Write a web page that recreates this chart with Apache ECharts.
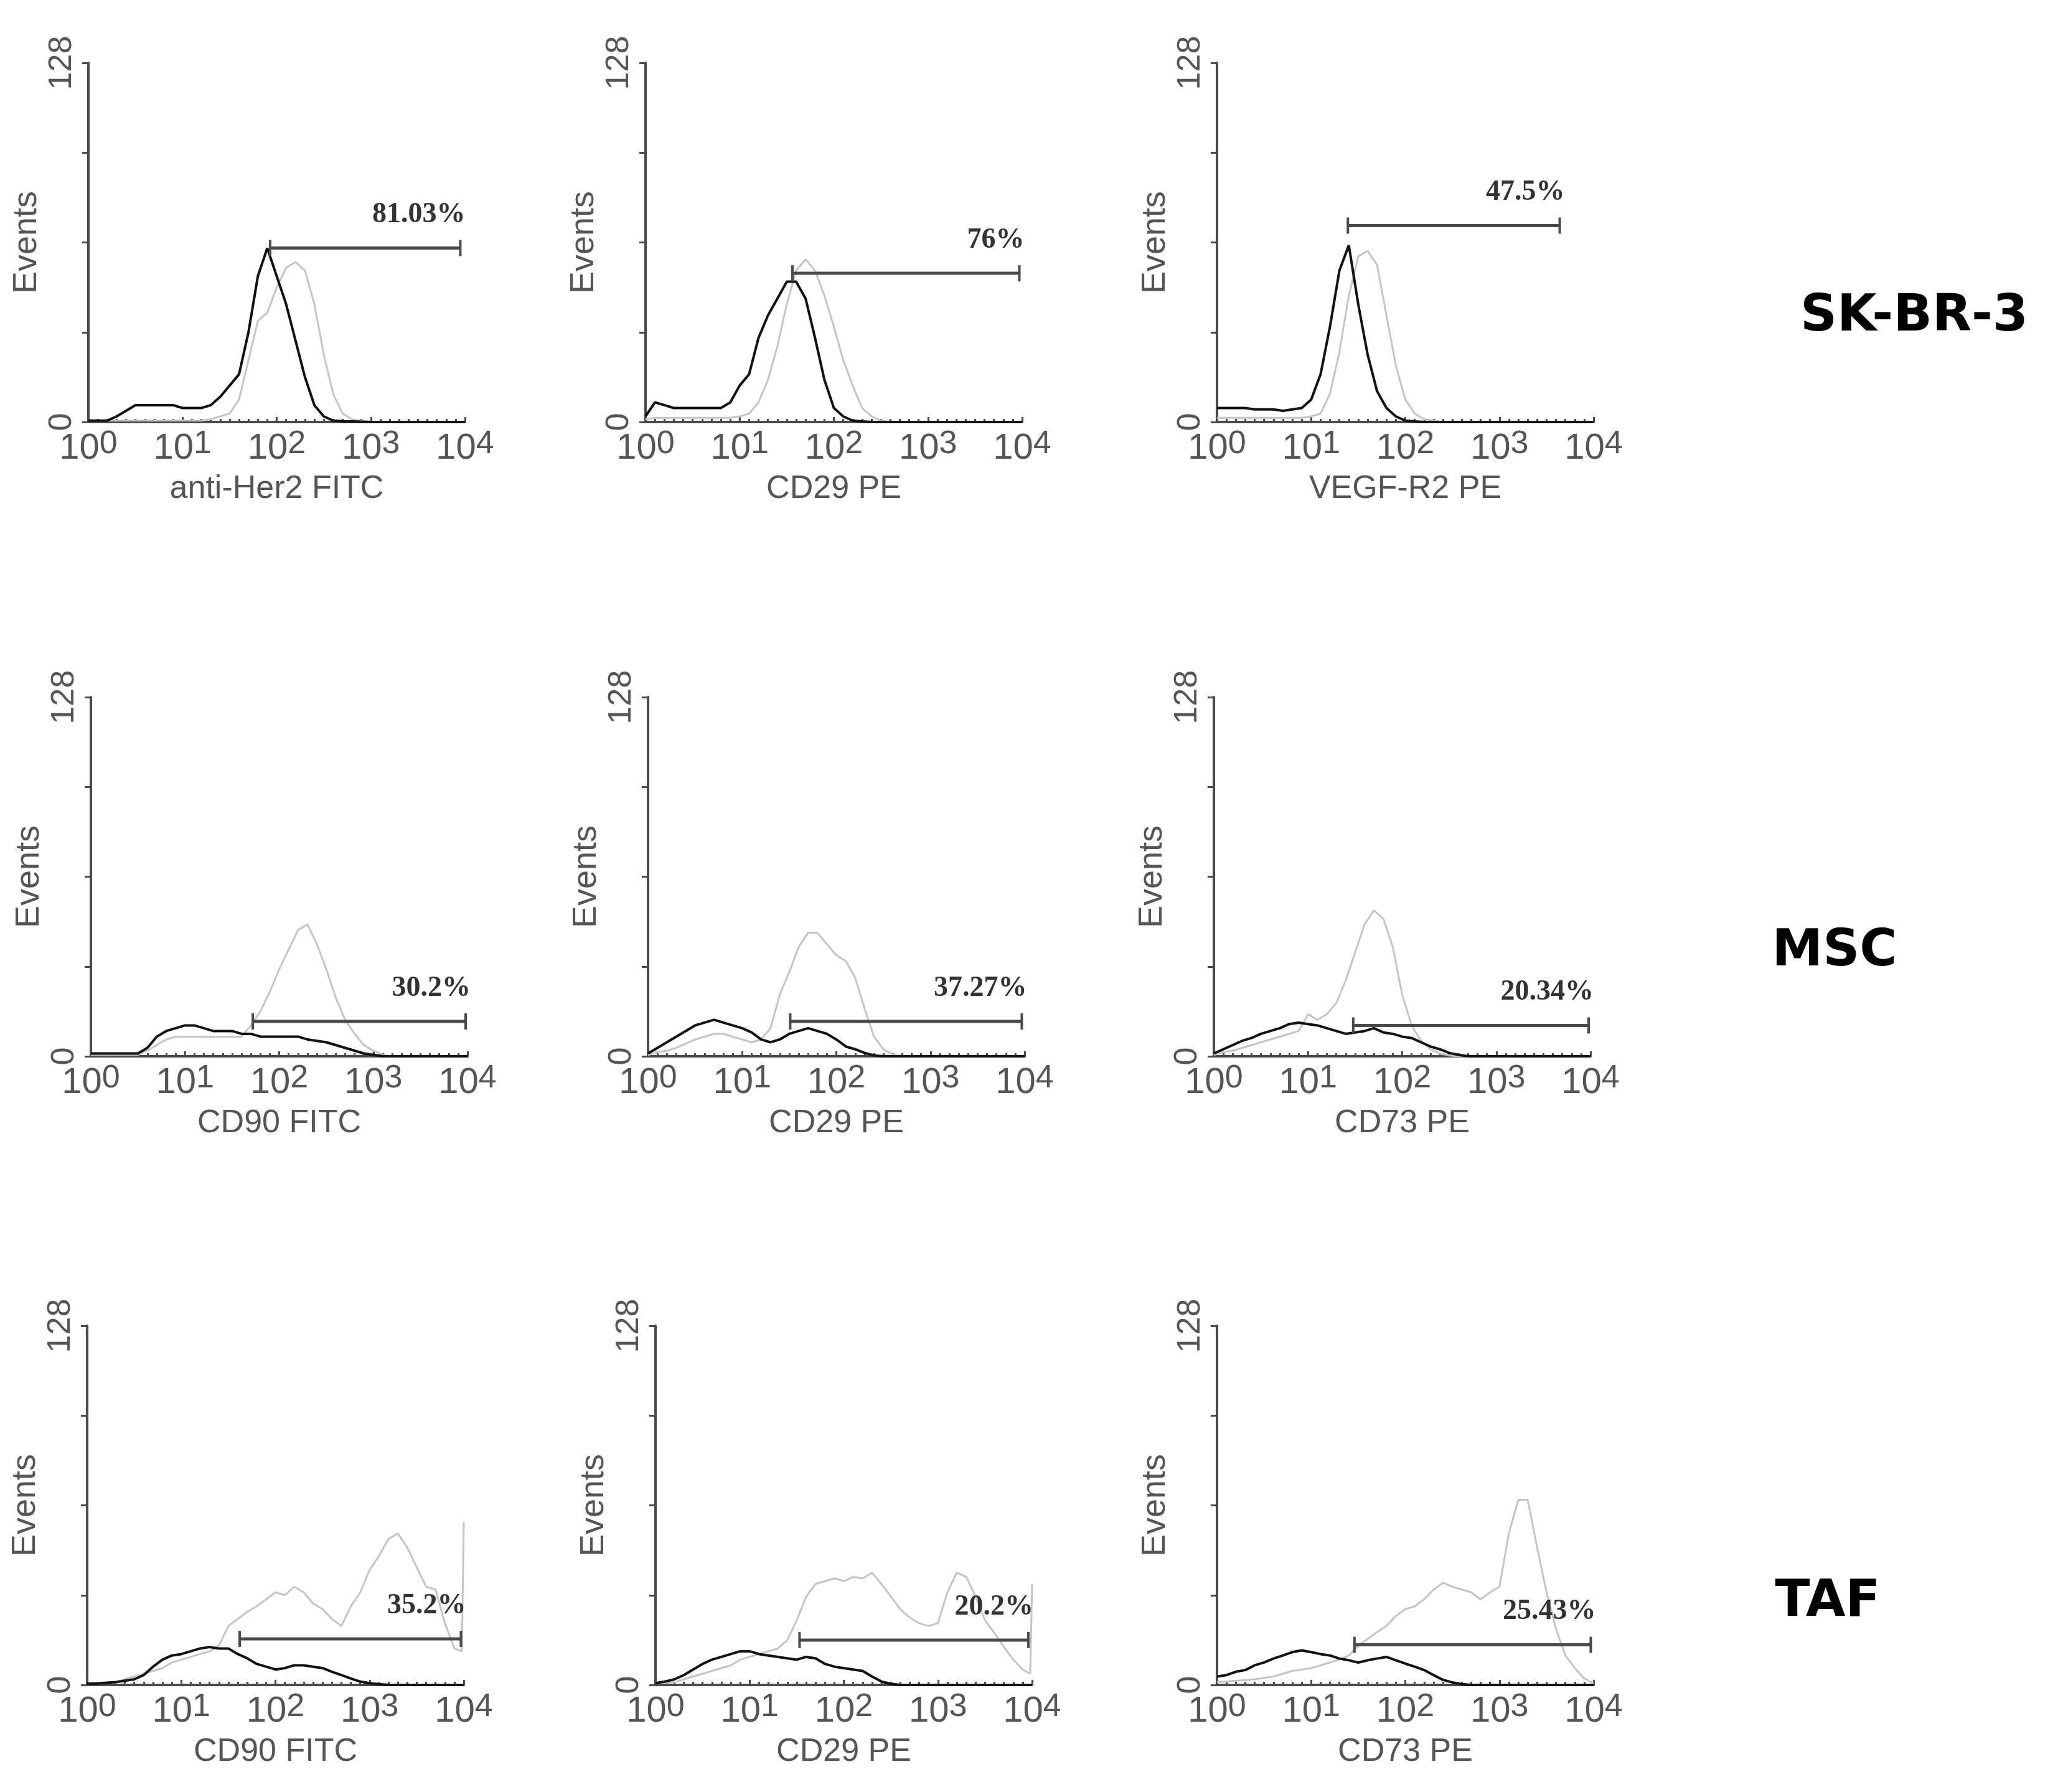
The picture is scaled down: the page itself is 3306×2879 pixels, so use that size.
<!DOCTYPE html>
<html><head><meta charset="utf-8">
<script src="https://cdn.jsdelivr.net/npm/echarts@6/dist/echarts.min.js"></script>
<style>html,body{margin:0;padding:0;background:#fff}#c{width:3306px;height:2879px}</style>
</head><body><div id="c"></div>
<script>
// log10 fluorescence positions (decades)
const LOGX = [0,0.1,0.2,0.3,0.4,0.5,0.6,0.7,0.8,0.9,1.0,1.1,1.2,1.3,1.4,1.5,1.6,1.7,1.8,1.9,2.0,2.1,2.2,2.3,2.4,2.5,2.6,2.7,2.8,2.9,3.0,3.1,3.2,3.3,3.4,3.5,3.6,3.7,3.8,3.9,3.98,4.0];
const xTickLabels = ['0','1','2','3','4'];
const axisTitles = ['anti-Her2 FITC','CD29 PE','VEGF-R2 PE','CD90 FITC','CD29 PE','CD73 PE','CD90 FITC','CD29 PE','CD73 PE'];
const rowLabels = ['SK-BR-3','MSC','TAF'];
const gateLabels = ['81.03%','76%','47.5%','30.2%','37.27%','20.34%','35.2%','20.2%','25.43%'];
const gateY  = [62, 53, 70, 12.4, 12.4, 11, 16.4, 16, 14.3];
const gateX0 = [1.93, 1.56, 1.39, 1.72, 1.51, 1.48, 1.62, 1.53, 1.46];
const gateX1 = [3.95, 3.97, 3.64, 3.98, 3.97, 3.98, 3.97, 3.96, 3.97];

// control (black) histograms
const ctrl1 = [0.5,0.5,0.5,2,4,6,6,6,6,6,5,5,5,6,9,13,17,32,52,62,52,42,29,16,6,2,0.5,0.3,0.2,0.1,0,0,0,0,0,0,0,0,0,0,0,0];
const ctrl2 = [2,7,6,5,5,5,5,5,5,7,13,17,30,38,44,50,50,44,30,15,5,2,0.5,0.2,0,0,0,0,0,0,0,0,0,0,0,0,0,0,0,0,0,0];
const ctrl3 = [5,5,5,5,4.5,4.5,4.5,4,4.5,5,8,17,34,54,63,42,24,11,5,2,0.5,0.2,0,0,0,0,0,0,0,0,0,0,0,0,0,0,0,0,0,0,0,0];
const ctrl4 = [1,1,1,1,1,1,3,7,9,10,11,11,10,9,9,9,8,8,7,7,7,7,7,6,5.5,5,4,3,2,1,0.5,0,0,0,0,0,0,0,0,0,0,0];
const ctrl5 = [1,3,5,7,9,11,12,13,12,11,10,8.5,6,5,6,8,9,10,9,8,6,3.5,2.5,1.2,0.3,0,0,0,0,0,0,0,0,0,0,0,0,0,0,0,0,0];
const ctrl6 = [1,2.5,4,5.5,6.5,8,9,10,11.5,12,11.5,11,10,9,8,8.5,9,10,8.5,8,7,6.5,5,3.5,2.5,1.2,0.5,0,0,0,0,0,0,0,0,0,0,0,0,0,0,0];
const ctrl7 = [0.5,0.5,0.8,1,1.5,2,3.5,6.5,9,10.5,11,12,13,13.5,13,13,11,9.5,7.5,6.5,5.5,6,7,7,6.5,6,4.7,3.5,2.3,1.2,0.6,0.3,0,0,0,0,0,0,0,0,0,0];
const ctrl8 = [0.6,1.2,2,3.5,5.5,7.5,9,10,11,12,12,11,10.5,10,9.5,9,10,9.5,7.5,6.5,6,5.5,5,3,1.2,0.4,0,0,0,0,0,0,0,0,0,0,0,0,0,0,0,0];
const ctrl9 = [3,3.5,4.7,5.3,7,8,9.4,10.5,11.7,12.3,11.7,11,10.5,9.4,8.8,8,8.8,9.4,10,8.8,7.6,6.5,5.3,3.5,1.8,0.9,0.3,0,0,0,0,0,0,0,0,0,0,0,0,0,0,0];
// stained (grey) histograms
const stain1 = [0.5,0.5,0.5,0.5,0.5,0.5,0.5,0.5,0.5,0.5,0.5,0.5,0.5,1,2,3,8,22,36,39,48,55,57,54,42,24,10,3,1,0.5,0,0,0,0,0,0,0,0,0,0,0,0];
const stain2 = [1,1.5,1.5,1.5,1.5,1.5,1.5,1.5,1.5,1.5,2,3,7,15,27,42,54,58,54,45,34,22,13,5,2,0.5,0,0,0,0,0,0,0,0,0,0,0,0,0,0,0,0];
const stain3 = [1.5,1.5,1.5,1.5,1.5,1.5,1.5,1.5,1.5,1.5,2,3,10,25,45,59,61,56,38,20,8,3,1,0.5,0,0,0,0,0,0,0,0,0,0,0,0,0,0,0,0,0,0];
const stain4 = [0.5,0.5,0.5,0.5,0.5,0.5,2,4,6,7,7,7,7,7,7,7,7,11,16,23,31,38,45,47,40,31,21,13,8,4,2,0.5,0,0,0,0,0,0,0,0,0,0];
const stain5 = [0.5,1.5,2,3,4.5,6,7,8,8,7,6,5,6,10,22,30,39,44,44,40,36,34,28,17,7,2.5,0.6,0,0,0,0,0,0,0,0,0,0,0,0,0,0,0];
const stain6 = [0.5,1.5,2,3,4,5,6,7,8,9,15,13,15,19,27,37,47,52,49,39,22,11,5.5,2.5,1,0.3,0,0,0,0,0,0,0,0,0,0,0,0,0,0,0,0];
const stain7 = [0.5,0.7,0.8,1,2,3,4,5,6,8,9,10,11,12,14,21,23.5,26,28,30.5,33,32,35,33,29,27,23.5,21,28,33,41,46,52,54,49,42,35,34,22,13,12,58];
const stain8 = [0.5,0.7,1,2,3,4,5,6,7,9,10,11,12,13,16,23,31.5,36,37,38,37,38.5,38,40,36,31.5,27,24,22,21,22,33,40,38.5,31.5,23,18.5,13.5,9,5.5,4,36];
const stain9 = [1,1.2,1.5,1.7,2,2.5,3,4,5,5.5,6,7,8,9,10.5,14,16.4,18.8,21,24.6,27,28,30.5,34,36.4,35,34,33,30.5,33,35,54,66,66,49,33,20,10.5,6,2.3,1,0.5];
const ctrlSets = [ctrl1,ctrl2,ctrl3,ctrl4,ctrl5,ctrl6,ctrl7,ctrl8,ctrl9];
const stainSets = [stain1,stain2,stain3,stain4,stain5,stain6,stain7,stain8,stain9];

const colLeft = [[142,1037,1955],[146,1041,1950],[140,1053,1955]];
const rowTop = [101,1120,2130];
const W = 605, H = 577;
const rowLabelPos = [[3075,510],[2947,1530],[2936,2575]];

const chart = echarts.init(document.getElementById('c'), null, {renderer:'canvas'});
const grid=[], xAxis=[], yAxis=[], series=[];
const axisColor = '#4a4a4a', textColor = '#555';
for (let i=0;i<9;i++){
  const r = Math.floor(i/3), c = i%3;
  grid.push({left: colLeft[r][c], top: rowTop[r], width: W, height: H});
  xAxis.push({type:'value', gridIndex:i, min:0, max:4, interval:1,
    axisLine:{lineStyle:{color:axisColor,width:4}},
    axisTick:{show:true, inside:true, length:8, lineStyle:{color:axisColor,width:3}},
    minorTick:{show:true, splitNumber:10, length:5, lineStyle:{color:axisColor,width:3}},
    splitLine:{show:false},
    axisLabel:{margin:10, formatter:v=>'{b|10}{s|'+xTickLabels[Math.round(v)]+'}',
      rich:{b:{fontFamily:'Liberation Sans',fontSize:58,color:textColor},
            s:{fontFamily:'Liberation Sans',fontSize:52,color:textColor,padding:[0,0,14,0]}}},
    name: axisTitles[i], nameLocation:'middle', nameGap:82,
    nameTextStyle:{fontFamily:'Liberation Sans',fontSize:52,color:textColor}
  });
  yAxis.push({type:'value', gridIndex:i, min:0, max:128, interval:32,
    axisLine:{show:true, lineStyle:{color:axisColor,width:4}},
    axisTick:{show:true, length:10, lineStyle:{color:axisColor,width:3}},
    splitLine:{show:false},
    axisLabel:{rotate:90, margin:16, formatter:v=>(v===0||v===128)?String(v):'',
      fontFamily:'Liberation Sans',fontSize:52,color:textColor},
    name:'Events', nameLocation:'middle', nameRotate:90, nameGap:72,
    nameTextStyle:{fontFamily:'Liberation Sans',fontSize:54,color:textColor}
  });
  series.push({type:'line', xAxisIndex:i, yAxisIndex:i, showSymbol:false, symbol:'none',
    data: LOGX.map((x,k)=>[x, stainSets[i][k]]), lineStyle:{color:'#c4c4c4',width:3}, z:2, silent:true});
  series.push({type:'line', xAxisIndex:i, yAxisIndex:i, showSymbol:false, symbol:'none',
    data: LOGX.map((x,k)=>[x, ctrlSets[i][k]]), lineStyle:{color:'#111',width:4}, z:3, silent:true});
  series.push({type:'line', xAxisIndex:i, yAxisIndex:i, symbol:'rect', symbolSize:[4,26], showSymbol:true,
    itemStyle:{color:'#4a4a4a'}, lineStyle:{color:'#4a4a4a',width:5}, z:4, silent:true,
    data:[[gateX0[i],gateY[i]],
      {value:[gateX1[i],gateY[i]], label:{show:true, position:'top', align:'right', offset:[8,-12],
        formatter: gateLabels[i], fontFamily:'Liberation Serif', fontWeight:'bold', fontSize:46, color:'#333'}}]});
}
chart.setOption({animation:false, backgroundColor:'#fff', grid, xAxis, yAxis, series,
  graphic: rowLabels.map((t,k)=>({type:'text', x:rowLabelPos[k][0], y:rowLabelPos[k][1],
    style:{text:t, font:'bold 82px "DejaVu Sans"', fill:'#000', align:'center', verticalAlign:'middle'}}))
});
</script></body></html>
